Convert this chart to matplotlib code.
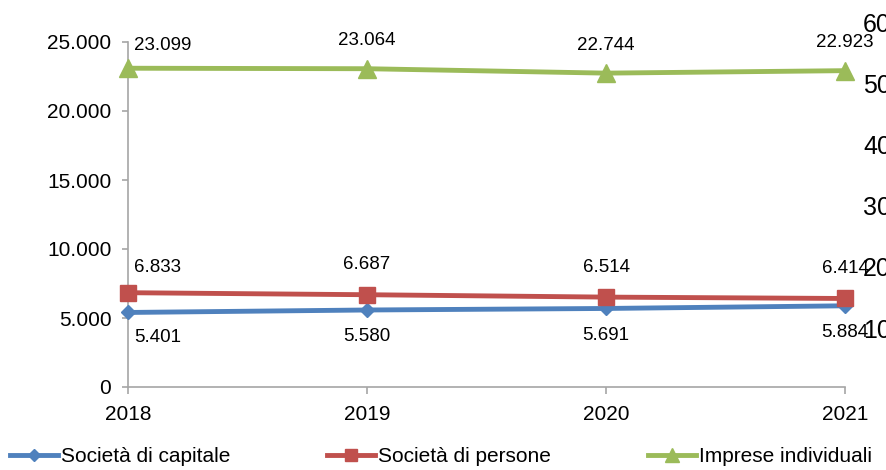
import matplotlib
matplotlib.use("Agg")
import matplotlib.pyplot as plt

years = [2018, 2019, 2020, 2021]
capitale = [5401, 5580, 5691, 5884]
persone = [6833, 6687, 6514, 6414]
individuali = [23099, 23064, 22744, 22923]
series_names = ["Società di capitale", "Società di persone", "Imprese individuali"]
left_ticks = [0, 5000, 10000, 15000, 20000, 25000]
right_ticks = [10, 20, 30, 40, 50, 60]

plt.rcParams['font.family'] = ['Liberation Sans', 'DejaVu Sans']

def it_fmt(v):
    return f"{v:,}".replace(",", ".")

W, H = 886, 470
fig = plt.figure(figsize=(W / 100, H / 100), dpi=100)
ax = fig.add_axes([128 / W, (H - 387) / H, (845 - 128) / W, 345 / H])

gray = '#A6A6A6'
colors = ['#4F81BD', '#C0504D', '#9BBB59']
markers = ['D', 's', '^']
msizes = [7.5, 12, 13]
data = [capitale, persone, individuali]

for vals, c, m, ms, name in zip(data, colors, markers, msizes, series_names):
    ax.plot(years, vals, color=c, lw=3.5, marker=m, ms=ms, mec=c, mfc=c,
            label=name, clip_on=False, zorder=3)

# data labels
px = 0.72
for vals, dy in [(individuali, 28), (persone, 30), (capitale, -27)]:
    for i, (x, v) in enumerate(zip(years, vals)):
        if i == 0:
            off = (6 * px, (dy - 5 if dy > 0 else dy + 2) * px)
            ha = 'left'
        else:
            off = (0, dy * px)
            ha = 'center'
        ax.annotate(it_fmt(v), (x, v), xytext=off, textcoords='offset points',
                    ha=ha, va='center', fontsize=13.5, color='black',
                    annotation_clip=False)

ax.set_xlim(years[0], years[-1])
ax.set_ylim(0, 25000)
ax.set_xticks(years)
ax.set_xticklabels([str(y) for y in years])
ax.set_yticks(left_ticks)
ax.set_yticklabels([it_fmt(t) for t in left_ticks])
for s in ['top', 'right']:
    ax.spines[s].set_visible(False)
for s in ['left', 'bottom']:
    ax.spines[s].set_color(gray)
    ax.spines[s].set_linewidth(1.2)
ax.tick_params(axis='y', direction='out', length=4, width=1.2, color=gray,
               labelsize=15, pad=8)
ax.tick_params(axis='x', direction='out', length=5, width=1.2, color=gray,
               labelsize=15, pad=8)
ax.patch.set_visible(False)

# cut-off secondary axis labels on the right
ax2 = fig.add_axes([128 / W, (H - 389.2) / H, (845 - 128) / W, (389.2 - 22) / H])
ax2.set_ylim(0, 60)
ax2.set_xticks([])
ax2.yaxis.tick_right()
ax2.set_yticks(right_ticks)
ax2.set_yticklabels([str(t) for t in right_ticks])
ax2.tick_params(axis='y', length=0, labelsize=18, pad=13)
for s in ax2.spines.values():
    s.set_visible(False)
ax2.patch.set_visible(False)

handles, labels = ax.get_legend_handles_labels()
fig.legend(handles, labels, loc='center left', bbox_to_anchor=(10 / W, (H - 457) / H),
           ncol=3, frameon=False, fontsize=15, handlelength=2.3, handletextpad=0.15,
           columnspacing=4.65, borderpad=0, borderaxespad=0, markerscale=0.75)

fig.savefig('out.png', dpi=100)
